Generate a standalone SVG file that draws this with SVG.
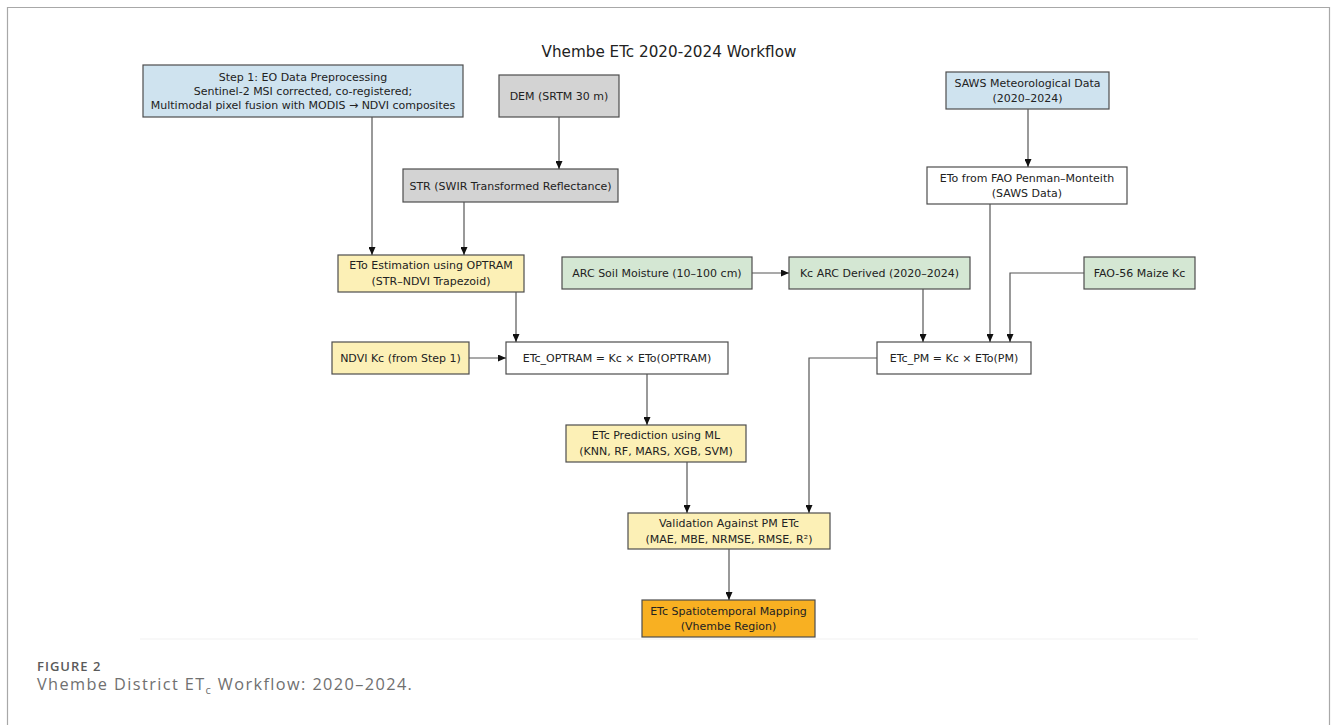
<svg xmlns="http://www.w3.org/2000/svg" width="1331" height="725" viewBox="0 0 1331 725">
<style>
.box{stroke:#4d4d4d;stroke-width:1.2}
.blue{fill:#cfe3ef}.gray{fill:#d3d3d3}.yellow{fill:#fcf0b6}.green{fill:#d4e7d3}.white{fill:#ffffff}.orange{fill:#f8b022}
.t{font-family:"DejaVu Sans",Verdana,sans-serif;font-size:11px;fill:#222;text-anchor:middle}
.title{font-family:"DejaVu Sans",Verdana,sans-serif;font-size:15.2px;fill:#222;text-anchor:middle}
.conn path{fill:none;stroke:#555;stroke-width:1.2}
.cap1{font-family:"Open Sans","Liberation Sans",sans-serif;font-size:13px;font-weight:600;fill:#5a5a5a;letter-spacing:1px}
.cap2{font-family:"Open Sans","Liberation Sans",sans-serif;font-size:16.3px;fill:#707070;letter-spacing:1.4px}
</style>
<defs>
<marker id="arr" markerWidth="8" markerHeight="7" refX="8" refY="3.5" orient="auto" markerUnits="userSpaceOnUse">
<path d="M0,0 L8,3.5 L0,7 z" fill="#111"/>
</marker>
</defs>
<rect x="0" y="0" width="1331" height="725" fill="#ffffff"/>
<path d="M7.5,730 V7.5 H1329.5 V730" fill="none" stroke="#a8a8a8" stroke-width="1.2"/>
<line x1="140" y1="639" x2="1198" y2="639" stroke="#f1f1f1" stroke-width="1"/>
<text class="title" x="669" y="57">Vhembe ETc 2020-2024 Workflow</text>

<g id="n-step1"><rect class="box blue" x="143" y="65" width="320" height="52"/>
<text class="t" x="303" y="81">Step 1: EO Data Preprocessing</text>
<text class="t" x="303" y="95">Sentinel-2 MSI corrected, co-registered;</text>
<text class="t" x="303" y="109">Multimodal pixel fusion with MODIS → NDVI composites</text></g>
<g id="n-dem"><rect class="box gray" x="499" y="75" width="120" height="42"/>
<text class="t" x="559" y="100">DEM (SRTM 30 m)</text></g>
<g id="n-str"><rect class="box gray" x="403" y="169" width="215" height="33"/>
<text class="t" x="510.5" y="190">STR (SWIR Transformed Reflectance)</text></g>
<g id="n-saws"><rect class="box blue" x="946" y="72" width="163" height="37"/>
<text class="t" x="1027.5" y="87">SAWS Meteorological Data</text>
<text class="t" x="1027.5" y="102">(2020–2024)</text></g>
<g id="n-etofao"><rect class="box white" x="927" y="167" width="200" height="37"/>
<text class="t" x="1027" y="182">ETo from FAO Penman–Monteith</text>
<text class="t" x="1027" y="197">(SAWS Data)</text></g>
<g id="n-optram"><rect class="box yellow" x="338" y="255" width="186" height="37"/>
<text class="t" x="431" y="269">ETo Estimation using OPTRAM</text>
<text class="t" x="431" y="285">(STR–NDVI Trapezoid)</text></g>
<g id="n-arcsm"><rect class="box green" x="562" y="257" width="190" height="32"/>
<text class="t" x="657" y="277">ARC Soil Moisture (10–100 cm)</text></g>
<g id="n-kcarc"><rect class="box green" x="789" y="257" width="181" height="32"/>
<text class="t" x="879.5" y="277">Kc ARC Derived (2020–2024)</text></g>
<g id="n-fao56"><rect class="box green" x="1084" y="257" width="111" height="32"/>
<text class="t" x="1139.5" y="277">FAO-56 Maize Kc</text></g>
<g id="n-ndvikc"><rect class="box yellow" x="332" y="342" width="137" height="32"/>
<text class="t" x="400.5" y="362">NDVI Kc (from Step 1)</text></g>
<g id="n-etcoptram"><rect class="box white" x="506" y="342" width="222" height="32"/>
<text class="t" x="617" y="362">ETc_OPTRAM = Kc × ETo(OPTRAM)</text></g>
<g id="n-etcpm"><rect class="box white" x="877" y="342" width="154" height="32"/>
<text class="t" x="954" y="362">ETc_PM = Kc × ETo(PM)</text></g>
<g id="n-ml"><rect class="box yellow" x="566" y="425" width="180" height="37"/>
<text class="t" x="656" y="439">ETc Prediction using ML</text>
<text class="t" x="656" y="455">(KNN, RF, MARS, XGB, SVM)</text></g>
<g id="n-valid"><rect class="box yellow" x="628" y="513" width="202" height="36"/>
<text class="t" x="729" y="527">Validation Against PM ETc</text>
<text class="t" x="729" y="543">(MAE, MBE, NRMSE, RMSE, R²)</text></g>
<g id="n-map"><rect class="box orange" x="642" y="600" width="173" height="37"/>
<text class="t" x="728.5" y="615">ETc Spatiotemporal Mapping</text>
<text class="t" x="728.5" y="630">(Vhembe Region)</text></g>

<g id="connectors" class="conn">
<path d="M372,117 V255" marker-end="url(#arr)"/>
<path d="M559,117 V169" marker-end="url(#arr)"/>
<path d="M464,202 V255" marker-end="url(#arr)"/>
<path d="M1028,109 V167" marker-end="url(#arr)"/>
<path d="M752,273 H789" marker-end="url(#arr)"/>
<path d="M923,289 V342" marker-end="url(#arr)"/>
<path d="M990,204 V342" marker-end="url(#arr)"/>
<path d="M1084,273 H1010 V342" marker-end="url(#arr)"/>
<path d="M516,292 V342" marker-end="url(#arr)"/>
<path d="M469,358 H506" marker-end="url(#arr)"/>
<path d="M647,374 V425" marker-end="url(#arr)"/>
<path d="M877,358 H809 V513" marker-end="url(#arr)"/>
<path d="M687,462 V513" marker-end="url(#arr)"/>
<path d="M729,549 V600" marker-end="url(#arr)"/>
</g>

<text class="cap1" x="37" y="671">FIGURE 2</text>
<text class="cap2" x="37" y="690">Vhembe District ET<tspan font-size="11" dy="4">c</tspan><tspan dy="-4"> Workflow: 2020–2024.</tspan></text>
</svg>
